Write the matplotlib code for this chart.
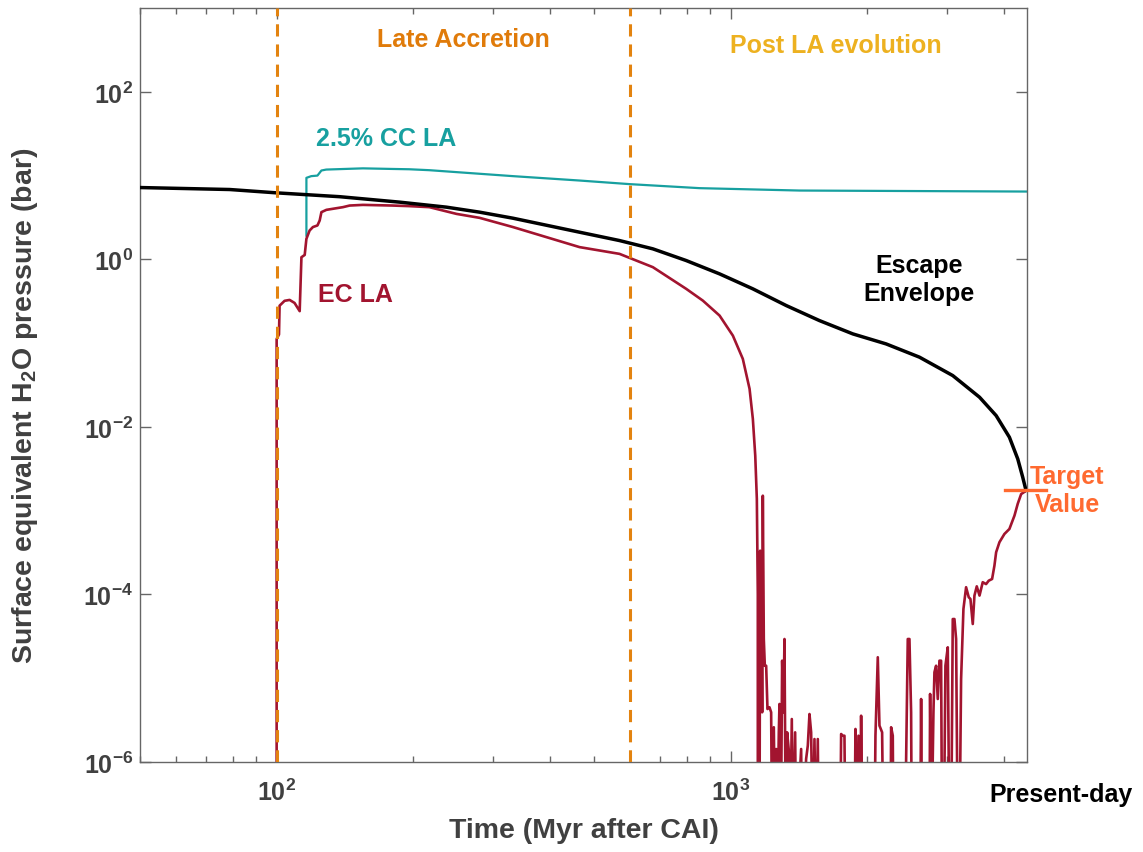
import matplotlib
matplotlib.use("Agg")
import matplotlib.pyplot as plt
import numpy as np
from matplotlib.ticker import FixedLocator, FuncFormatter, NullFormatter, NullLocator

# escape envelope (black)
env_t = [50, 78.8, 100, 137.6, 186.6, 236.6, 280, 331.6, 464.9, 569.4, 674.4, 798.7, 946,
         1120, 1327, 1570, 1860, 2202, 2608, 3088, 3537, 3848, 4116, 4294, 4404, 4466, 4482]
env_p = [7.2, 6.82, 6.22, 5.6, 4.82, 4.20, 3.66, 3.10, 2.11, 1.677, 1.335, 0.968, 0.671,
         0.4446, 0.2808, 0.1859, 0.1289, 0.0979, 0.0680, 0.0410, 0.02263, 0.01365, 0.00753,
         0.00415, 0.002506, 0.00185, 0.00176]

# 2.5% CC late accretion (teal)
cc_t = [116.3, 116.3, 119.2, 123, 125.5, 128.6, 154.9, 180, 196, 217, 249, 331.6, 465, 599,
        854.5, 1419, 4482]
cc_p = [1.92, 9.4, 9.85, 10.0, 11.5, 11.8, 12.2, 12.0, 11.9, 11.6, 11.0, 9.85, 8.73, 7.91,
        7.08, 6.63, 6.45]

# EC late accretion (dark red); 1e-7 = below the plotted range
ec_t = [100, 100, 101.2, 101.5, 104.1, 106.8, 109.5, 112.4, 113.4, 115.3, 116.3, 118.2, 120.2,
        123, 124.4, 125.5, 128.7, 135.5, 140, 144.8, 154.9, 180, 196, 217, 249, 280, 331.6,
        465, 569.4, 674.4, 798.7, 868.9, 946, 1012, 1064.4, 1101.5, 1120, 1133.7, 1142.9,
        1148.5, 1148.5,
        1158.4, 1162.3, 1166.2, 1170.2, 1174.1, 1178.1, 1184.0, 1190.1, 1198.2, 1206.3,
        1218.6, 1228.9, 1235.2, 1245.7, 1254.1, 1260.5, 1266.9, 1277.7, 1282.0, 1290.7,
        1299.4, 1308.3, 1314.9, 1323.8, 1332.8, 1344.2, 1353.3, 1364.7, 1371.6, 1388.0,
        1395.0, 1430.9, 1438.2, 1467.6, 1480.1, 1492.7, 1505.3, 1518.1, 1531.0, 1544.0,
        1557.1, 1565.1, 1743.9, 1752.7, 1767.6, 1782.6, 1791.6, 1875.3, 1884.9, 1897.7,
        1913.8, 1930.0, 1939.8, 1953.0, 2075.6, 2086.1, 2111.0, 2128.9, 2157.8, 2172.5,
        2251.0, 2258.6, 2277.8, 2285.6, 2416.7, 2437.2, 2457.9, 2478.8, 2499.8, 2508.3,
        2616.6, 2629.9, 2643.3, 2743.4, 2752.7, 2771.4, 2799.7, 2813.9, 2837.8, 2861.9,
        2886.1, 2910.6, 2925.4, 2950.3, 2975.3, 3010.8, 3036.3, 3062.1, 3088.1, 3114.3,
        3140.7, 3167.4, 3194.3, 3221.4, 3259.8, 3304.1, 3349.1, 3377.6, 3417.8, 3446.9,
        3487.9, 3537, 3595, 3657, 3706, 3770, 3815, 3848, 3913, 4013, 4116, 4223, 4294,
        4369, 4481]
ec_p = [1e-7, 0.112, 0.127, 0.28, 0.32, 0.328, 0.302, 0.241, 1.06, 1.13, 1.76, 2.21, 2.43,
        2.54, 2.91, 3.66, 3.90, 4.08, 4.2, 4.39, 4.47, 4.39, 4.32, 4.2, 3.49, 3.13, 2.43,
        1.40, 1.163, 0.807, 0.4446, 0.322, 0.2133, 0.123, 0.0649, 0.02846, 0.01246, 0.00454,
        0.00138, 1e-4, 1e-7,
        1e-7, 3.33e-4, 9.8e-6, 6.71e-5, 3.92e-6, 1.51e-3, 2.94e-5, 1.41e-5, 1.41e-5, 4.29e-6,
        4.5e-6, 3.92e-6, 1e-7, 2.6e-6, 1e-7, 1.43e-6, 1e-7, 2.26e-6, 4.93e-6, 1e-7,
        1.62e-5, 3.92e-6, 2.94e-5, 1e-7, 2.26e-6, 1.37e-6, 1e-7, 3.26e-6, 1e-7, 2.26e-6,
        1e-7, 1.43e-6, 1e-7, 1.09e-6, 1.57e-6, 3.74e-6, 2.26e-6, 1e-7, 1.88e-6, 1e-7,
        1.88e-6, 1e-7, 1e-7, 2.16e-6, 2.06e-6, 2.06e-6, 1e-7, 1e-7, 2.48e-6, 1e-7,
        2.06e-6, 1e-7, 3.57e-6, 1e-7, 1e-7, 2.06e-6, 1.78e-5, 2.72e-6, 2.26e-6, 1e-7,
        1e-7, 2.6e-6, 2.06e-6, 1e-7, 1e-7, 1.04e-6, 2.94e-5, 2.94e-5, 3.92e-6, 1e-7,
        1e-7, 5.65e-6, 1e-7, 1e-7, 6.49e-6, 1e-7, 3.92e-6, 1.18e-5, 1.41e-5, 5.65e-6,
        1.62e-5, 1.62e-5, 1e-7, 1e-7, 1.41e-5, 2.34e-5, 1e-7, 1e-7, 5.09e-5, 5.09e-5,
        2.94e-5, 1e-7, 1e-7, 9.8e-6, 6.71e-5, 1.22e-4, 9.25e-5, 8.83e-5, 4.44e-5, 9.68e-5,
        1.25e-4, 9.7e-5, 1.40e-4, 1.33e-4, 1.46e-4, 1.53e-4, 2.21e-4, 3.19e-4, 4.2e-4,
        5.27e-4, 6.05e-4, 8.73e-4, 1.21e-3, 1.58e-3, 1.73e-3]

la_start = 100
la_end = 600
target_p = 1.75e-3

x_major = [100, 1000]
x_minor = [50, 60, 70, 80, 90, 200, 300, 400, 500, 600, 700, 800, 900, 2000, 3000, 4000]
y_major = [1e-6, 1e-4, 1e-2, 1, 1e2]

plt.rcParams['font.family'] = ['Liberation Sans', 'DejaVu Sans']
plt.rcParams['font.weight'] = 'bold'
plt.rcParams['axes.labelweight'] = 'bold'
plt.rcParams['axes.unicode_minus'] = False
plt.rcParams['mathtext.fontset'] = 'custom'
plt.rcParams['mathtext.bf'] = 'Liberation Sans:bold'
plt.rcParams['mathtext.rm'] = 'Liberation Sans:bold'
plt.rcParams['mathtext.default'] = 'bf'

teal = '#17A0A0'
red = '#A2142F'
dash_orange = '#E3830F'
gray = '#404040'

fig = plt.figure(figsize=(11.43, 8.53), dpi=100)
ax = fig.add_axes([0.1225, 0.1055, 0.776, 0.8839])

ax.plot(cc_t, cc_p, color=teal, lw=1.6, zorder=2)
ax.plot(ec_t, ec_p, color=red, lw=1.9, zorder=2.5)
ax.plot(env_t, env_p, color='black', lw=2.5, zorder=3)
for xv in [la_start, la_end]:
    ax.axvline(xv, color=dash_orange, lw=2.2, ls=(0, (4, 2.6)), zorder=4)
ax.plot([4034, 4966], [target_p, target_p], color='#FF6A30', lw=2.4, clip_on=False, zorder=5)

ax.set_xscale('log')
ax.set_yscale('log')
ax.set_xlim(50, 4500)
ax.set_ylim(1e-6, 1e3)

ax.xaxis.set_major_locator(FixedLocator(x_major))
ax.xaxis.set_minor_locator(FixedLocator(x_minor))
ax.xaxis.set_minor_formatter(NullFormatter())
ax.yaxis.set_major_locator(FixedLocator(y_major))
ax.yaxis.set_minor_locator(NullLocator())
fmt = FuncFormatter(lambda v, pos: r'$10^{%d}$' % int(round(np.log10(v))))
ax.xaxis.set_major_formatter(fmt)
ax.yaxis.set_major_formatter(fmt)

ax.tick_params(which='both', direction='in', top=True, right=True, color='#666666',
               labelcolor=gray, labelsize=18, width=1)
ax.tick_params(which='major', length=8)
ax.tick_params(which='minor', length=4)
ax.tick_params(axis='x', pad=12)
ax.tick_params(axis='y', pad=5)
for s in ax.spines.values():
    s.set_color('#666666')
    s.set_linewidth(1)

ax.set_xlabel('Time (Myr after CAI)', fontsize=20.5, color=gray, fontweight='bold')
ax.xaxis.set_label_coords(0.5, -0.073)
ax.set_ylabel('Surface equivalent H$_2$O pressure (bar)', fontsize=20.5, color=gray,
              fontweight='bold')
ax.yaxis.set_label_coords(-0.113, 0.4735)

ax.text(258, 430, 'Late Accretion', color='#E07B0A', fontsize=18, ha='center', va='center')
ax.text(1702, 364, 'Post LA evolution', color='#EDB120', fontsize=18, ha='center', va='center')
ax.text(174, 28.3, '2.5% CC LA', color=teal, fontsize=18, ha='center', va='center')
ax.text(149.3, 0.387, 'EC LA', color=red, fontsize=18, ha='center', va='center')
ax.text(2606, 0.585, 'Escape\nEnvelope', color='black', fontsize=18, ha='center',
        va='center', linespacing=1.2)
ax.text(5520, 1.77e-3, 'Target\nValue', color='#FF6A30', fontsize=18, ha='center',
        va='center', linespacing=1.2)
ax.text(5350, -0.0424, 'Present-day', transform=ax.get_xaxis_transform(), color='black',
        fontsize=18, ha='center', va='center')

fig.savefig('out.png', dpi=100)
